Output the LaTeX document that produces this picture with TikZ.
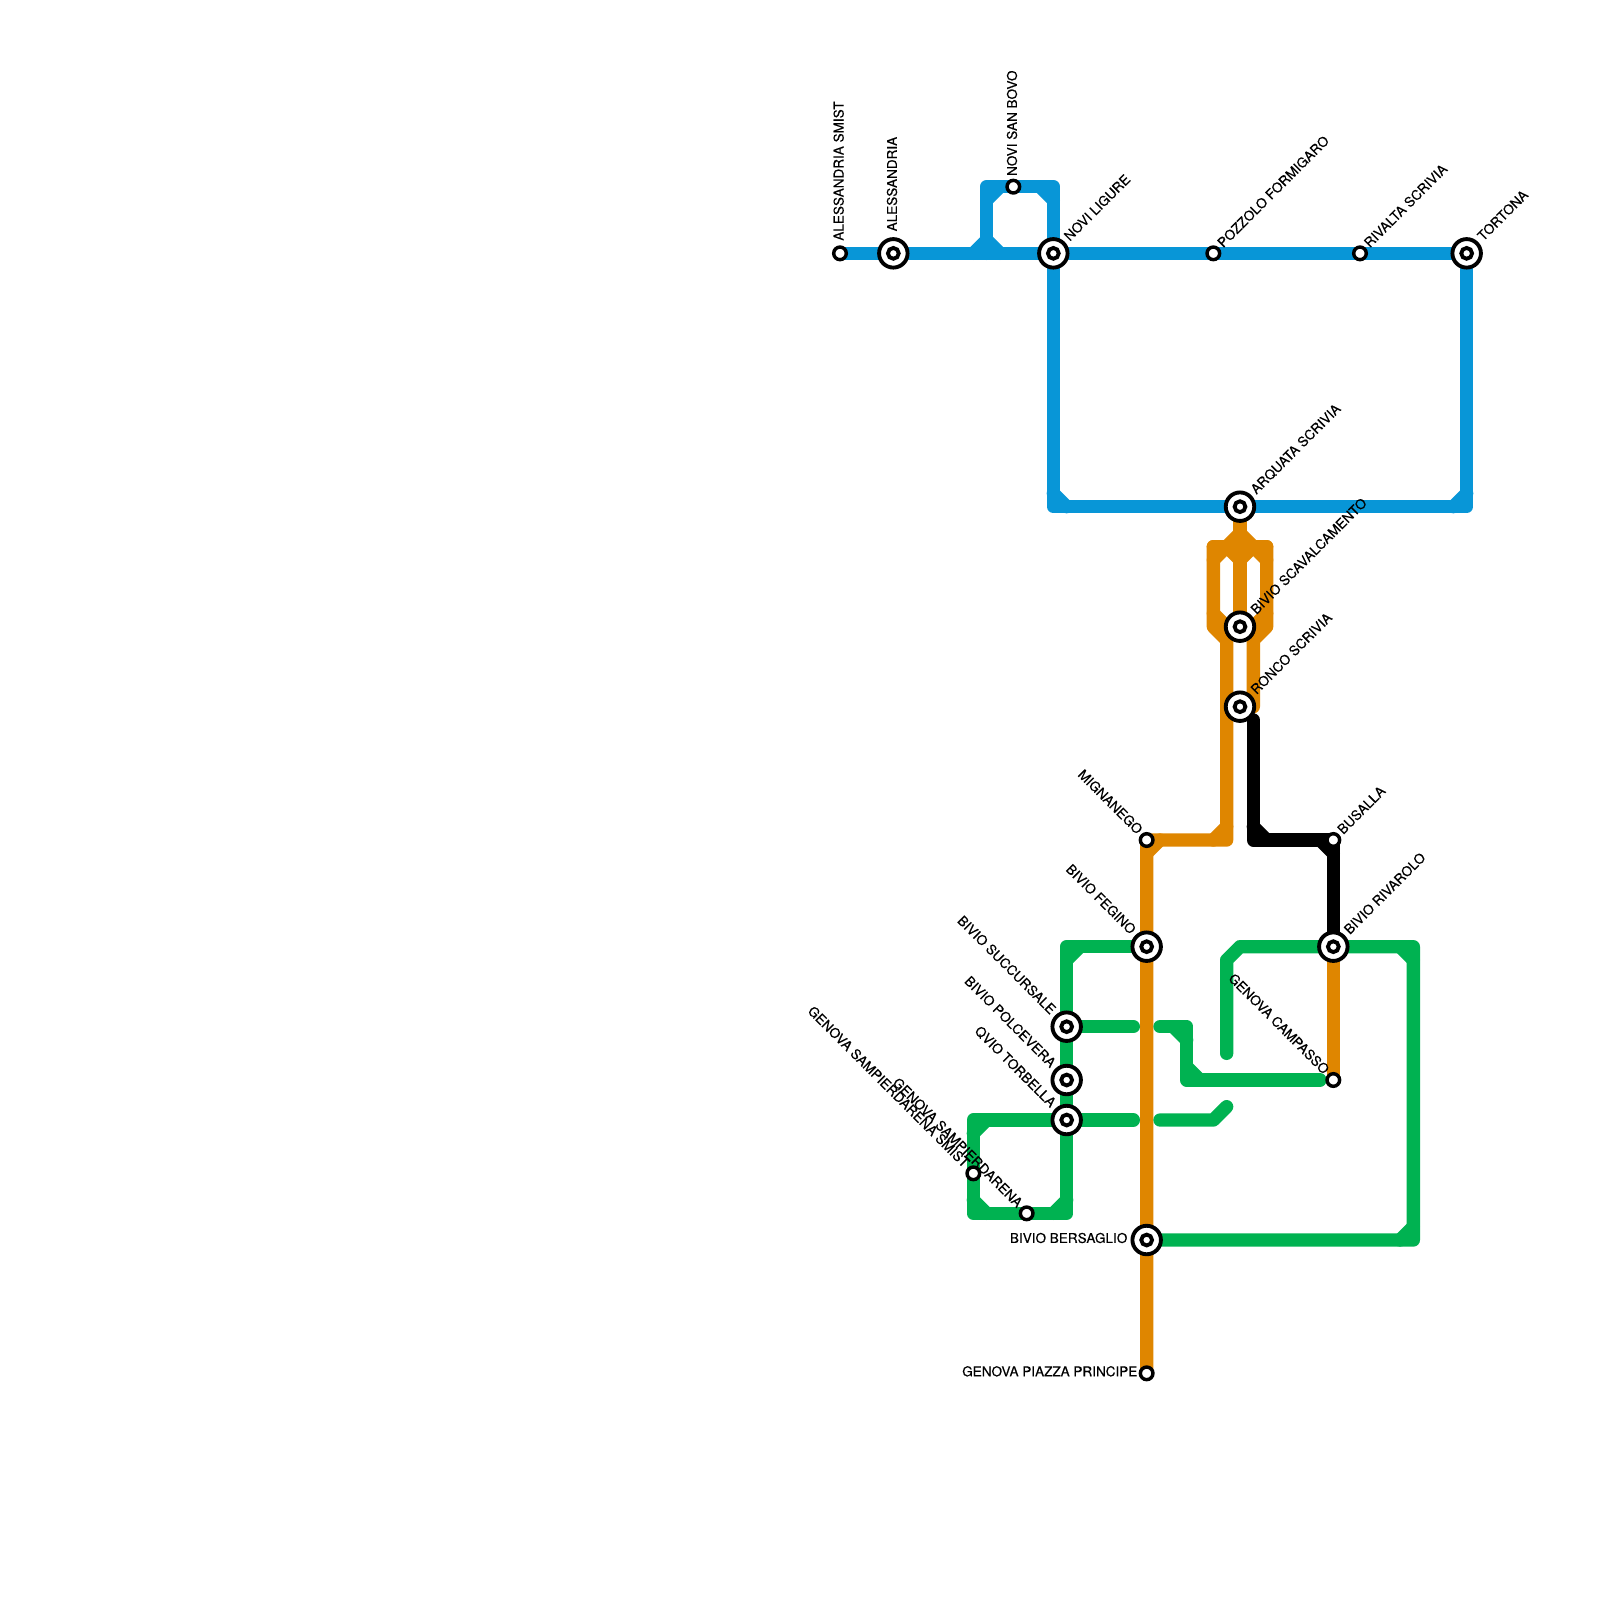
\documentclass[tikz,border=0pt]{standalone}
\usepackage{fontspec}
\setmainfont{TeX Gyre Heros}[FakeBold=0.35]
\usetikzlibrary{backgrounds}
\definecolor{lineblue}{HTML}{0896D7}
\definecolor{lineorange}{HTML}{DF8600}
\definecolor{linegreen}{HTML}{00B251}
\tikzset{
  stn/.style={circle,draw=black,fill=white,line width=.98pt,inner sep=0pt,minimum size=.126cm},
  hub/.style={circle,draw=black,fill=white,line width=1.1pt,inner sep=0pt,minimum size=.285cm,
    path picture={\draw[line width=1.1pt] (path picture bounding box.center) circle (.054cm);}},
  lbl/.style={inner sep=0pt,font=\fontsize{3.85}{4.5}\selectfont},
  lblup/.style={lbl,rotate=90,anchor=west},
  lblne/.style={lbl,rotate=45,anchor=west},
  lblnw/.style={lbl,rotate=-45,anchor=east},
  lblw/.style={lbl,anchor=east},
  track/.style={line width=.1333cm,line cap=round,line join=round},
  blueline/.style={track,draw=lineblue},
  orangeline/.style={track,draw=lineorange},
  greenline/.style={track,draw=linegreen},
  blackline/.style={track,draw=black}
}
\begin{document}
\begin{tikzpicture}[x=.13333cm,y=-.13333cm]
\useasboundingbox (0,0) rectangle (120,120);
% stations
\node[stn] (alesmist) at (63,19) {};
\node[hub] (ale) at (67,19) {};
\node[stn] (novibovo) at (76,14) {};
\node[hub] (novi) at (79,19) {};
\node[stn] (pozzolo) at (91,19) {};
\node[stn] (rivalta) at (102,19) {};
\node[hub] (tortona) at (110,19) {};
\node[hub] (arquata) at (93,38) {};
\node[hub] (scaval) at (93,47) {};
\node[hub] (ronco) at (93,53) {};
\node[stn] (mignanego) at (86,63) {};
\node[stn] (busalla) at (100,63) {};
\node[hub] (fegino) at (86,71) {};
\node[hub] (rivarolo) at (100,71) {};
\node[hub] (succursale) at (80,77) {};
\node[hub] (polcevera) at (80,81) {};
\node[hub] (torbella) at (80,84) {};
\node[stn] (sampsmist) at (73,88) {};
\node[stn] (samp) at (77,91) {};
\node[stn] (campasso) at (100,81) {};
\node[hub] (bersaglio) at (86,93) {};
\node[stn] (principe) at (86,103) {};
% labels
\node[lblup] (alesmistL) at (62.9,18.1) {ALESSANDRIA SMIST};
\node[lblup] (aleL) at (66.9,17.4) {ALESSANDRIA};
\node[lblup] (novibovoL) at (75.9,13.25) {NOVI SAN BOVO};
\node[lblne] (noviL) at (79.95,17.9) {NOVI LIGURE};
\node[lblne] (pozzoloL) at (91.45,18.4) {POZZOLO FORMIGARO};
\node[lblne] (rivaltaL) at (102.45,18.4) {RIVALTA SCRIVIA};
\node[lblne] (tortonaL) at (110.95,17.9) {TORTONA};
\node[lblne] (arquataL) at (93.95,36.9) {ARQUATA SCRIVIA};
\node[lblne] (scavalL) at (93.95,45.9) {BIVIO SCAVALCAMENTO};
\node[lblne] (roncoL) at (93.95,51.9) {RONCO SCRIVIA};
\node[lblne] (busallaL) at (100.45,62.4) {BUSALLA};
\node[lblne] (rivaroloL) at (100.95,69.9) {BIVIO RIVAROLO};
\node[lblnw] (mignanegoL) at (85.55,62.4) {MIGNANEGO};
\node[lblnw] (feginoL) at (85.05,69.9) {BIVIO FEGINO};
\node[lblnw] (succursaleL) at (79.05,75.9) {BIVIO SUCCURSALE};
\node[lblnw] (polceveraL) at (79.05,79.9) {BIVIO POLCEVERA};
\node[lblnw] (torbellaL) at (79.05,82.9) {QVIO TORBELLA};
\node[lblnw] (sampsmistL) at (72.55,87.4) {GENOVA SAMPIERDARENA SMIST};
\node[lblnw] (sampL) at (76.55,90.4) {GENOVA SAMPIERDARENA};
\node[lblnw] (campassoL) at (99.55,80.4) {GENOVA CAMPASSO};
\node[lblw] (bersaglioL) at (84.6,92.85) {BIVIO BERSAGLIO};
\node[lblw] (principeL) at (85.35,102.85) {GENOVA PIAZZA PRINCIPE};
% bends
\coordinate (bl1) at (74,19);
\coordinate (bl2) at (74,14);
\coordinate (bl3) at (79,14);
\coordinate (bl4) at (79,38);
\coordinate (bl5) at (110,38);
\coordinate (or1) at (91,41);
\coordinate (or2) at (95,41);
\coordinate (or3) at (91,47);
\coordinate (or4) at (95,47);
\coordinate (or5) at (92,48);
\coordinate (or6) at (94,48);
\coordinate (or7) at (92,63);
\coordinate (or8) at (94,53);
\coordinate (bk1) at (94,54);
\coordinate (bk2) at (94,63);
\coordinate (gr1) at (80,71);
\coordinate (gr2) at (80,91);
\coordinate (gr3) at (73,91);
\coordinate (gr4) at (73,84);
\coordinate (gr5) at (85,77);
\coordinate (gr6) at (87,77);
\coordinate (gr7) at (89,77);
\coordinate (gr8) at (89,81);
\coordinate (gr9) at (99,81);
\coordinate (gr10) at (85,84);
\coordinate (gr11) at (87,84);
\coordinate (gr12) at (91,84);
\coordinate (gr13) at (92,83);
\coordinate (gr14) at (92,79);
\coordinate (gr15) at (92,72);
\coordinate (gr16) at (93,71);
\coordinate (gr17) at (106,71);
\coordinate (gr18) at (106,93);
\begin{scope}[on background layer]
% blue
\draw[blueline] (alesmist.center)--(ale.center)--(novi.center)--(pozzolo.center)--(rivalta.center)--(tortona.center);
\draw[blueline] (bl1)--(bl2)--(novibovo.center)--(bl3)--(novi.center)--(bl4)--(arquata.center)--(bl5)--(tortona.center);
\draw[blueline] (bl1) ++(-1,0) -- ++(1,-1) -- ++(1,1);
\draw[blueline] (bl2) ++(0,1) -- ++(1,-1);
\draw[blueline] (bl3) ++(-1,0) -- ++(1,1);
\draw[blueline] (bl4) ++(0,-1) -- ++(1,1);
\draw[blueline] (bl5) ++(-1,0) -- ++(1,-1);
% orange
\draw[orangeline] (arquata.center)--(scaval.center);
\draw[orangeline] (or1)--(or2);
\draw[orangeline] (or1)--(or3)--(or5)--(or7)--(mignanego.center)--(fegino.center)--(bersaglio.center)--(principe.center);
\draw[orangeline] (or2)--(or4)--(or6)--(or8);
\draw[orangeline] (or1) ++(0,1) -- ++(1,-1) -- ++(1,-1) -- ++(1,1) -- ++(1,1);
\draw[orangeline] (or1) ++(1,0) -- ++(1,1) -- ++(1,-1);
\draw[orangeline] (or3) ++(0,-1) -- ++(1,1);
\draw[orangeline] (or4) ++(0,-1) -- ++(-1,1);
\draw[orangeline] (or7) ++(-1,0) -- ++(1,-1);
\draw[orangeline] (mignanego) ++(0,1) -- ++(1,-1);
\draw[orangeline] (rivarolo.center)--(campasso.center);
% black
\draw[blackline] (bk1)--(bk2)--(busalla.center)--(rivarolo.center);
\draw[blackline] (bk2) ++(0,-1) -- ++(1,1);
\draw[blackline] (busalla) ++(-1,0) -- ++(1,1);
% green
\draw[greenline] (fegino.center)--(gr1)--(succursale.center)--(polcevera.center)--(torbella.center)--(gr2)--(samp.center)--(gr3)--(sampsmist.center)--(gr4)--(torbella.center)--(gr10);
\draw[greenline] (succursale.center)--(gr5);
\draw[greenline] (gr6)--(gr7)--(gr8)--(gr9);
\draw[greenline] (gr11)--(gr12)--(gr13);
\draw[greenline] (gr14)--(gr15)--(gr16)--(rivarolo.center)--(gr17)--(gr18)--(bersaglio.center);
\draw[greenline] (gr1) ++(0,1) -- ++(1,-1);
\draw[greenline] (gr2) ++(-1,0) -- ++(1,-1);
\draw[greenline] (gr3) ++(0,-1) -- ++(1,1);
\draw[greenline] (gr4) ++(0,1) -- ++(1,-1);
\draw[greenline] (gr7) ++(-1,0) -- ++(1,1);
\draw[greenline] (gr8) ++(0,-1) -- ++(1,1);
\draw[greenline] (gr17) ++(-1,0) -- ++(1,1);
\draw[greenline] (gr18) ++(-1,0) -- ++(1,-1);
\end{scope}
\end{tikzpicture}
\end{document}
